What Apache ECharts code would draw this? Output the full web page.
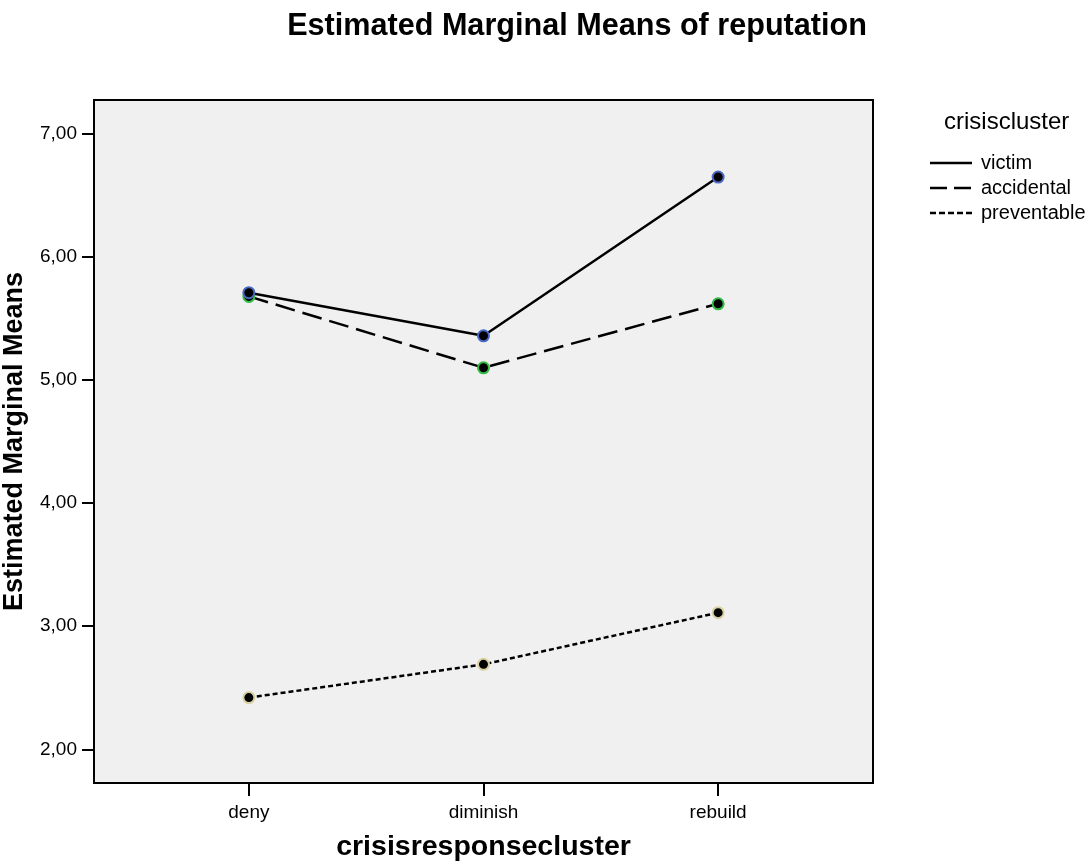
<!DOCTYPE html>
<html>
<head>
<meta charset="utf-8">
<script src="https://cdn.jsdelivr.net/npm/echarts@6/dist/echarts.min.js"></script>
<style>
html,body{margin:0;padding:0;background:#fff;}
#chart{width:1092px;height:864px;}
</style>
</head>
<body>
<div id="chart"></div>
<script>
const titleText = 'Estimated Marginal Means of reputation';
const xAxisName = 'crisisresponsecluster';
const yAxisName = 'Estimated Marginal Means';
const legendTitle = 'crisiscluster';
const categories = ['deny', 'diminish', 'rebuild'];
const seriesNames = ['victim', 'accidental', 'preventable'];
const victim = [5.71, 5.36, 6.65];
const accidental = [5.68, 5.10, 5.62];
const preventable = [2.42, 2.69, 3.11];
const yTicks = [2, 3, 4, 5, 6, 7];

const seriesValues = [victim, accidental, preventable];
const dashes = ['solid', [20, 8], [5, 3]];
const legendDashes = [null, [17, 7], [6, 3]];
const markerBorders = ['#4a68c4', '#33bb44', '#d8d0a0'];
const FONT = 'Liberation Sans, Arial, sans-serif';

const chart = echarts.init(document.getElementById('chart'));

const series = seriesNames.map((name, i) => ({
  name: name,
  type: 'line',
  data: seriesValues[i].map((v, j) => [j, v]),
  symbol: 'circle',
  symbolSize: 11,
  showSymbol: true,
  lineStyle: { color: '#000', width: 2.5, type: dashes[i] },
  itemStyle: { color: '#000', borderColor: markerBorders[i], borderWidth: 2 },
  emphasis: { disabled: true },
  z: 3 - i
}));

const legendGraphic = [{
  type: 'text', left: 944, top: 110,
  style: { text: legendTitle, fontFamily: FONT, fontSize: 24, fill: '#000' }
}];
seriesNames.forEach((name, i) => {
  const y = 163 + i * 25;
  legendGraphic.push({
    type: 'line',
    shape: { x1: 930, y1: y, x2: 972, y2: y },
    style: { stroke: '#000', lineWidth: 2.5, lineDash: legendDashes[i] }
  });
  legendGraphic.push({
    type: 'text', x: 981, y: y,
    style: { text: name, fontFamily: FONT, fontSize: 20, fill: '#000', verticalAlign: 'middle', textAlign: 'left' }
  });
});

chart.setOption({
  animation: false,
  backgroundColor: '#fff',
  title: {
    text: titleText,
    left: 572, top: 6, textAlign: 'center',
    textStyle: { fontFamily: FONT, fontSize: 30.6, fontWeight: 'bold', color: '#000' }
  },
  grid: {
    left: 94, top: 100, right: 219, bottom: 81,
    outerBoundsMode: 'none', containLabel: false,
    show: true, backgroundColor: '#f0f0f0', borderColor: '#000', borderWidth: 2
  },
  xAxis: {
    type: 'value', min: -0.66, max: 2.66,
    name: xAxisName, nameLocation: 'middle', nameGap: 50,
    nameTextStyle: { fontFamily: FONT, fontSize: 28.5, fontWeight: 'bold', color: '#000' },
    axisLine: { show: false, onZero: false },
    axisTick: { show: true, length: 13, lineStyle: { color: '#000', width: 2 }, customValues: categories.map((c, i) => i) },
    axisLabel: {
      customValues: categories.map((c, i) => i),
      formatter: v => categories[Math.round(v)] || '',
      fontFamily: FONT, fontSize: 19, color: '#000', margin: 20
    },
    splitLine: { show: false }
  },
  yAxis: {
    type: 'value', min: 1.726, max: 7.276,
    name: yAxisName, nameLocation: 'middle', nameGap: 66, nameRotate: 90,
    nameTextStyle: { fontFamily: FONT, fontSize: 27, fontWeight: 'bold', color: '#000' },
    axisLine: { show: false, onZero: false },
    axisTick: { show: true, length: 12, lineStyle: { color: '#000', width: 2 }, customValues: yTicks },
    axisLabel: {
      customValues: yTicks,
      formatter: v => v.toFixed(2).replace('.', ','),
      fontFamily: FONT, fontSize: 19, color: '#000', margin: 17
    },
    splitLine: { show: false }
  },
  graphic: legendGraphic,
  series: series
});
</script>
</body>
</html>
